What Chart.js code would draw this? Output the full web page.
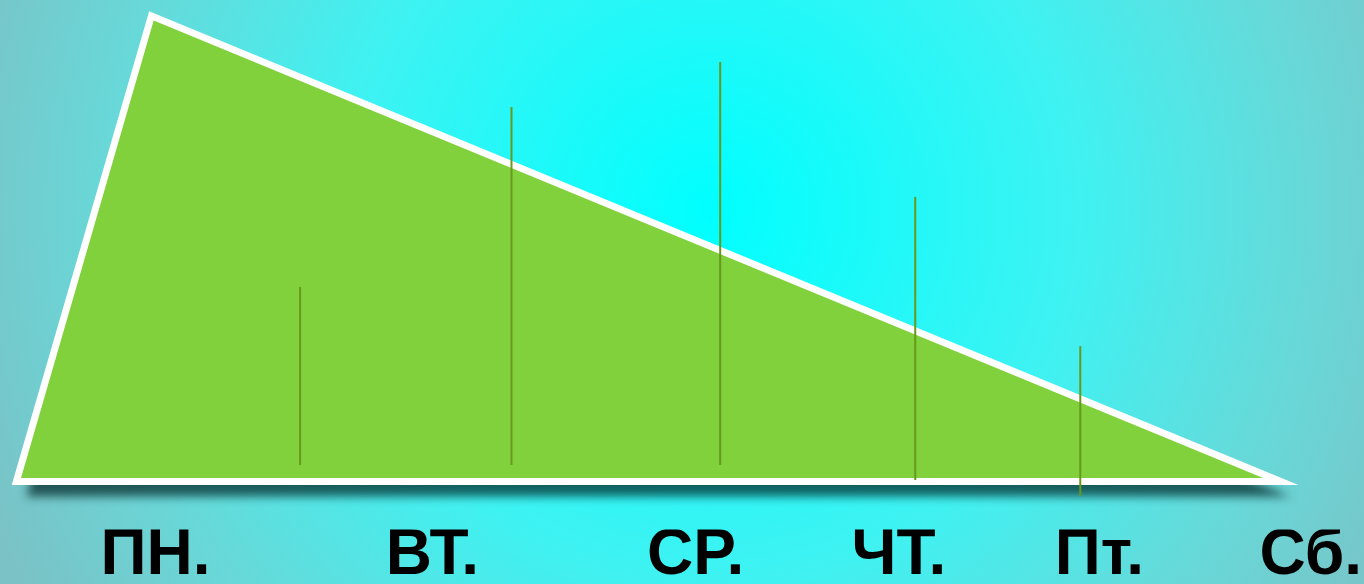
<!DOCTYPE html>
<html>
<head>
<meta charset="utf-8">
<script src="https://cdn.jsdelivr.net/npm/chart.js"></script>
<style>
  html, body {
    margin: 0;
    padding: 0;
    width: 1364px;
    height: 584px;
    overflow: hidden;
    background: radial-gradient(circle 780px at 710px 210px, #00ffff 0%, #3ff2f2 47%, #68d8d8 77%, #7ac2c6 100%);
  }
  #wrap { position: relative; width: 1364px; height: 584px; }
</style>
</head>
<body>
<div id="wrap"><canvas id="chart"></canvas></div>
<script>
// Day labels and where they sit on the x scale (0..100)
const dayLabels = ['ПН.', 'ВТ.', 'СР.', 'ЧТ.', 'Пт.', 'Сб.'];
const dayPos = [11.4, 31.7, 51.0, 65.9, 80.6, 96.1];

// Triangle corners (closed, first edge repeated so the corner joins cleanly)
const triX = [1.2, 11.1, 93.9, 1.2, 11.1];
const triY = [0, 96.7, 0, 0, 96.7];

// Thin vertical stems
const stemX = [22.0, 37.5, 52.8, 67.1, 79.2];
const stemTop = [40.4, 77.8, 87.1, 59.1, 28.1];
const stemBottom = [3.4, 3.4, 3.4, 0.3, -3.0];

const shadowPlugin = {
  id: 'triShadow',
  beforeDatasetsDraw(chart) {
    const ctx = chart.ctx;
    ctx.save();
    ctx.shadowColor = 'rgba(0, 35, 35, 0.7)';
    ctx.shadowBlur = 10;
    ctx.shadowOffsetX = 10;
    ctx.shadowOffsetY = 15;
  },
  beforeDatasetDraw(chart) {
    // the filler has already painted the triangle, no shadow for strokes
    chart.ctx.shadowColor = 'rgba(0,0,0,0)';
  },
  afterDatasetsDraw(chart) {
    chart.ctx.restore();
  }
};

const datasets = [{
  data: triX.map((x, i) => ({ x: x, y: triY[i] })),
  borderColor: '#ffffff',
  borderWidth: 7,
  borderJoinStyle: 'miter',
  backgroundColor: '#80d13c',
  fill: 'shape',
  tension: 0,
  pointRadius: 0,
  order: 2,
  clip: false
}];

stemX.forEach((x, i) => {
  datasets.push({
    data: [{ x: x, y: stemBottom[i] }, { x: x, y: stemTop[i] }],
    borderColor: '#66991c',
    borderWidth: 2,
    pointRadius: 0,
    fill: false,
    order: 1,
    clip: false
  });
});

new Chart(document.getElementById('chart'), {
  type: 'line',
  data: { datasets: datasets },
  options: {
    responsive: true,
    maintainAspectRatio: false,
    animation: false,
    events: [],
    layout: { padding: 0 },
    plugins: {
      legend: { display: false },
      tooltip: { enabled: false }
    },
    scales: {
      x: {
        type: 'linear',
        min: 0,
        max: 100,
        grid: { display: false, drawTicks: false },
        border: { display: false },
        afterBuildTicks: (scale) => {
          scale.ticks = dayPos.map(v => ({ value: v }));
        },
        ticks: {
          autoSkip: false,
          maxRotation: 0,
          padding: 0,
          color: '#000000',
          font: { family: 'Liberation Sans', weight: 'bold', size: 64, lineHeight: 0.85 },
          callback: (value, index) => dayLabels[index]
        }
      },
      y: {
        display: false,
        min: -10,
        max: 100
      }
    }
  },
  plugins: [shadowPlugin]
});
</script>
</body>
</html>
